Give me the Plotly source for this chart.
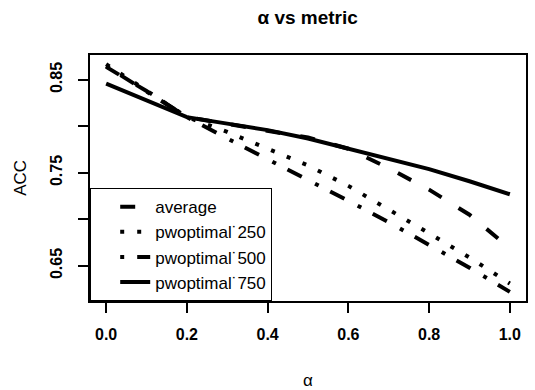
import plotly.graph_objects as go

alpha = [0.0, 0.1, 0.2, 0.3, 0.4, 0.5, 0.6, 0.7, 0.8, 0.9, 1.0]
acc_average = [0.864, 0.838, 0.810, 0.803, 0.796, 0.788, 0.776, 0.755, 0.732, 0.705, 0.669]
acc_pw250 = [0.867, 0.838, 0.810, 0.794, 0.776, 0.758, 0.736, 0.711, 0.685, 0.659, 0.631]
acc_pw500 = [0.865, 0.838, 0.810, 0.787, 0.765, 0.742, 0.720, 0.697, 0.673, 0.648, 0.622]
acc_pw750 = [0.846, 0.828, 0.810, 0.803, 0.796, 0.787, 0.776, 0.764, 0.754, 0.741, 0.727]

series_names = ["average", "pwoptimal˙250", "pwoptimal˙500", "pwoptimal˙750"]
x_tickvals = [0.0, 0.2, 0.4, 0.6, 0.8, 1.0]
x_ticktext = ["<b>0.0</b>", "<b>0.2</b>", "<b>0.4</b>", "<b>0.6</b>", "<b>0.8</b>", "<b>1.0</b>"]
y_tickvals = [0.65, 0.70, 0.75, 0.80, 0.85]
y_ticktext = ["<b>0.65</b>", "", "<b>0.75</b>", "", "<b>0.85</b>"]

FONT = "Liberation Sans, Arial, Helvetica, sans-serif"
dashes = ["15px,20px", "4px,13px", "4px,13px,16px,15px", "solid"]
values = [acc_average, acc_pw250, acc_pw500, acc_pw750]

fig = go.Figure()
for name, ys, d in zip(series_names, values, dashes):
    fig.add_trace(go.Scatter(x=alpha, y=ys, mode="lines", name=name,
                             line=dict(color="black", width=4, dash=d)))

allv = [v for s in values for v in s]
lo, hi = min(allv), max(allv)
pad = 0.04 * (hi - lo)

fig.update_layout(
    width=535, height=390,
    margin=dict(l=90, r=9, t=55, b=89, autoexpand=False),
    paper_bgcolor="white", plot_bgcolor="white",
    font=dict(family=FONT, size=17, color="black"),
    title=dict(text="<b>α vs metric</b>", x=0.575, xanchor="center",
               y=0.955, yanchor="middle", font=dict(size=19)),
    showlegend=True,
    legend=dict(x=0, y=0, xanchor="left", yanchor="bottom", xref="paper", yref="paper",
                bordercolor="black", borderwidth=1.2, bgcolor="white",
                font=dict(size=17), itemwidth=30, indentation=24,
                tracegroupgap=0),
    annotations=[
        dict(text="α", xref="paper", yref="paper", x=0.5, y=-0.322,
             xanchor="center", yanchor="middle", showarrow=False, font=dict(size=17)),
        dict(text="ACC", xref="paper", yref="paper", x=-0.161, y=0.5, textangle=-90,
             xanchor="center", yanchor="middle", showarrow=False, font=dict(size=17)),
    ],
)
fig.update_xaxes(range=[-0.04, 1.04], tickvals=x_tickvals, ticktext=x_ticktext,
                 tickfont=dict(size=16),
                 ticks="outside", ticklen=10, tickwidth=1.5, tickcolor="black",
                 showline=True, mirror=True, linecolor="black", linewidth=1.8,
                 showgrid=False, zeroline=False, ticklabelstandoff=8, automargin=False)
fig.update_yaxes(range=[lo - pad, hi + pad], tickvals=y_tickvals, ticktext=y_ticktext,
                 tickangle=-90, tickfont=dict(size=16),
                 ticks="outside", ticklen=10, tickwidth=1.5, tickcolor="black",
                 showline=True, mirror=True, linecolor="black", linewidth=1.8,
                 showgrid=False, zeroline=False, ticklabelstandoff=10, automargin=False)
fig.write_html("out.html", config={"displayModeBar": False},
               post_script="document.body.style.margin='0';")
